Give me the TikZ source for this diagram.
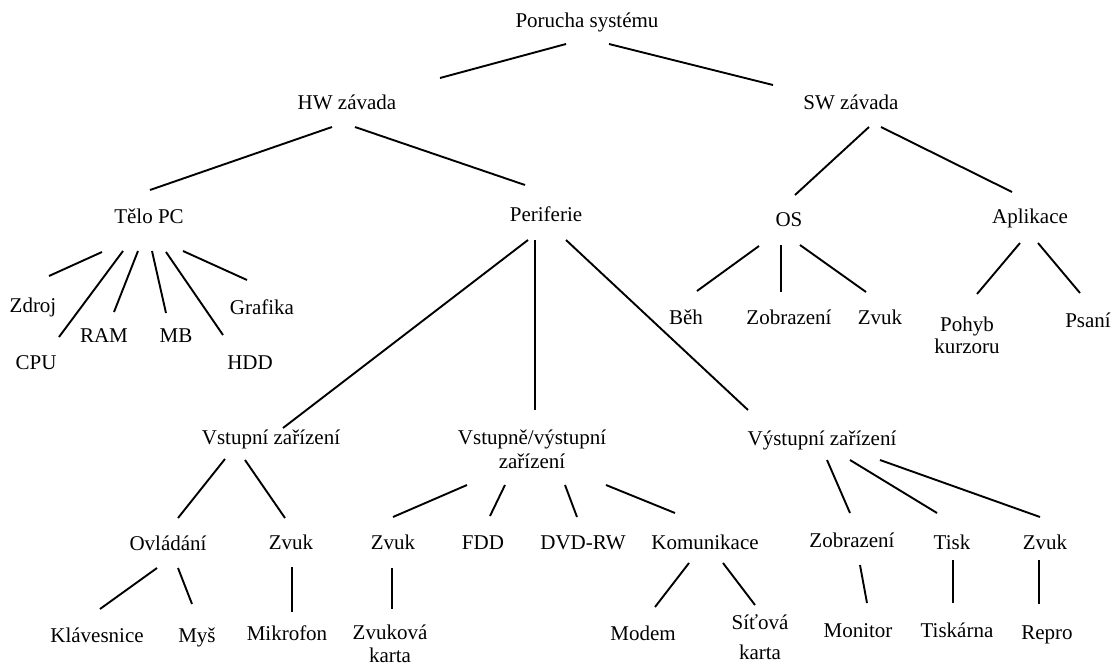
\documentclass[tikz,border=0pt]{standalone}
\usepackage{fontspec}
\setmainfont{Liberation Serif}
\usetikzlibrary{calc}
\tikzset{
  lbl/.style={inner sep=0pt, font=\fontsize{21}{24}\selectfont, text height=16pt, text depth=2pt},
  lbltwo/.style={inner sep=0pt, align=center, font=\fontsize{21}{24}\selectfont},
  link/.style={line width=1.9pt, line cap=butt}
}
% straight connector between two named nodes, each end offset from the node centre
\newcommand{\tielink}[4]{\draw[link] ($(#1)+(#2)$) -- ($(#3)+(#4)$);}
\begin{document}
\begin{tikzpicture}[x=1pt,y=-1pt]
\path[use as bounding box, fill=white] (0,0) rectangle (1120,666);

% level 0-1
\node[lbl] (root) at (587,21) {Porucha systému};
\node[lbl] (hw) at (347,103) {HW závada};
\node[lbl] (sw) at (851,103) {SW závada};

% level 2
\node[lbl] (telo) at (149,217) {Tělo PC};
\node[lbl] (peri) at (546,215) {Periferie};
\node[lbl] (os) at (789,219) {OS};
\node[lbl] (apl) at (1030,217) {Aplikace};

% parts of the PC body
\node[lbl] (zdroj) at (33,305) {Zdroj};
\node[lbl] (cpu) at (36,362) {CPU};
\node[lbl] (ram) at (104,335) {RAM};
\node[lbl] (mb) at (176,335) {MB};
\node[lbl] (hdd) at (250,362) {HDD};
\node[lbl] (graf) at (262,307) {Grafika};

% software faults
\node[lbl] (beh) at (686,317) {Běh};
\node[lbl] (osz) at (789,317) {Zobrazení};
\node[lbl] (osv) at (880,317) {Zvuk};
\node[lbltwo, font=\fontsize{21}{22}\selectfont] (pohyb) at (967,335) {Pohyb\\kurzoru};
\node[lbl] (psani) at (1088,320) {Psaní};

% peripheral groups
\node[lbl] (vst) at (271,437) {Vstupní zařízení};
\node[lbltwo] (vv) at (532,449) {Vstupně/výstupní\\zařízení};
\node[lbl] (vys) at (822,438) {Výstupní zařízení};

% level 5
\node[lbl] (ovl) at (168,543) {Ovládání};
\node[lbl] (vzv) at (291,542) {Zvuk};
\node[lbl] (vvz) at (393,542) {Zvuk};
\node[lbl] (fdd) at (483,542) {FDD};
\node[lbl] (dvd) at (583,542) {DVD-RW};
\node[lbl] (kom) at (705,542) {Komunikace};
\node[lbl] (yzo) at (852,540) {Zobrazení};
\node[lbl] (tisk) at (952,542) {Tisk};
\node[lbl] (yzv) at (1045,542) {Zvuk};

% devices
\node[lbl] (klav) at (97,635) {Klávesnice};
\node[lbl] (mys) at (197,635) {Myš};
\node[lbl] (mikro) at (287,633) {Mikrofon};
\node[lbltwo, font=\fontsize{21}{23}\selectfont] (zkarta) at (390,644) {Zvuková\\karta};
\node[lbl] (modem) at (643,633) {Modem};
\node[lbltwo, font=\fontsize{21}{30}\selectfont] (sit) at (760,637) {Síťová\\karta};
\node[lbl] (mon) at (858,630) {Monitor};
\node[lbl] (tiskarna) at (957,630) {Tiskárna};
\node[lbl] (repro) at (1047,632) {Repro};

% connectors
\tielink{root}{-21,23}{hw}{93,-25}
\tielink{root}{22,23}{sw}{-78,-18}
\tielink{hw}{-15,24}{telo}{1,-27}
\tielink{hw}{8,24}{peri}{-21,-30}
\tielink{sw}{18,24}{os}{6,-24}
\tielink{sw}{30,24}{apl}{-18,-25}

\tielink{telo}{-47,35}{zdroj}{16,-29}
\tielink{telo}{-26,34}{cpu}{23,-25}
\tielink{telo}{-11,34}{ram}{10,-23}
\tielink{telo}{3,34}{mb}{-10,-22}
\tielink{telo}{17,35}{hdd}{-27,-27}
\tielink{telo}{34,34}{graf}{-15,-27}

\tielink{os}{-30,27}{beh}{11,-26}
\tielink{os}{-8,26}{osz}{-8,-25}
\tielink{os}{11,26}{osv}{-14,-25}
\tielink{apl}{-10,26}{pohyb}{10,-41}
\tielink{apl}{8,26}{psani}{-8,-27}

\tielink{peri}{-18,25}{vst}{12,-9}
\tielink{peri}{-11,25}{vv}{3,-39}
\tielink{peri}{20,25}{vys}{-74,-28}

\tielink{vst}{-46,22}{ovl}{10,-25}
\tielink{vst}{-26,23}{vzv}{-6,-24}
\tielink{ovl}{-11,25}{klav}{3,-26}
\tielink{ovl}{10,25}{mys}{-5,-31}
\tielink{vzv}{1,25}{mikro}{5,-21}

\tielink{vv}{-65,36}{vvz}{0,-25}
\tielink{vv}{-27,36}{fdd}{7,-26}
\tielink{vv}{33,36}{dvd}{-6,-25}
\tielink{vv}{74,36}{kom}{-30,-29}
\tielink{vvz}{-1,26}{zkarta}{2,-35}
\tielink{kom}{-16,21}{modem}{12,-26}
\tielink{kom}{18,21}{sit}{-5,-32}

\tielink{vys}{5,22}{yzo}{-2,-27}
\tielink{vys}{28,22}{tisk}{-15,-29}
\tielink{vys}{58,22}{yzv}{-5,-25}
\tielink{yzo}{8,25}{mon}{9,-27}
\tielink{tisk}{1,18}{tiskarna}{-4,-27}
\tielink{yzv}{-6,18}{repro}{-8,-28}
\end{tikzpicture}
\end{document}
